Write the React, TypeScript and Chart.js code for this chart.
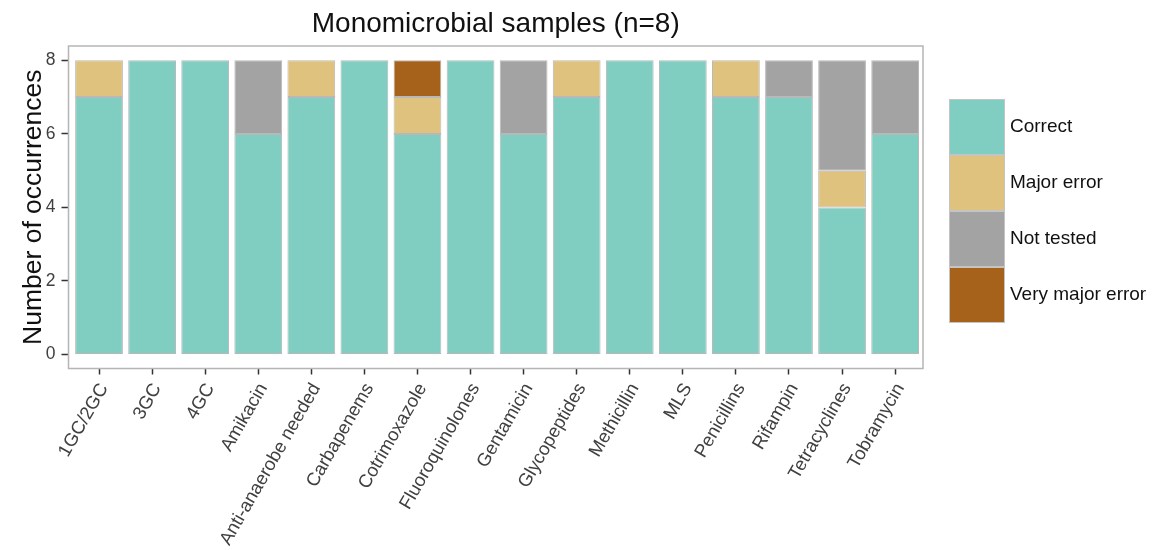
import React, { useEffect, useRef } from "react";
import { Chart, registerables } from "chart.js";

Chart.register(...registerables);

const categories = [
  "1GC/2GC", "3GC", "4GC", "Amikacin", "Anti-anaerobe needed", "Carbapenems",
  "Cotrimoxazole", "Fluoroquinolones", "Gentamicin", "Glycopeptides",
  "Methicillin", "MLS", "Penicillins", "Rifampin", "Tetracyclines", "Tobramycin",
];
const correct = [7, 8, 8, 6, 7, 8, 6, 8, 6, 7, 8, 8, 7, 7, 4, 6];
const majorError = [1, 0, 0, 0, 1, 0, 1, 0, 0, 1, 0, 0, 1, 0, 1, 0];
const notTested = [0, 0, 0, 2, 0, 0, 0, 0, 2, 0, 0, 0, 0, 1, 3, 2];
const veryMajorError = [0, 0, 0, 0, 0, 0, 1, 0, 0, 0, 0, 0, 0, 0, 0, 0];
const yTicks = [0, 2, 4, 6, 8];
const seriesNames = ["Correct", "Major error", "Not tested", "Very major error"];
const seriesValues = [correct, majorError, notTested, veryMajorError];
const seriesColors = ["#80CDC1", "#DFC27D", "#A3A3A3", "#A6611A"];
const titleText = "Monomicrobial samples (n=8)";
const yTitle = "Number of occurrences";

const FONT = "'Liberation Sans', Arial, Helvetica, sans-serif";

const decor = {
  id: "decor",
  afterDraw(chart: any) {
    const { ctx, chartArea: a } = chart;
    ctx.save();
    // panel border
    ctx.strokeStyle = "#b5b5b5";
    ctx.lineWidth = 1.5;
    ctx.strokeRect(a.left, a.top, a.right - a.left, a.bottom - a.top);
    // title
    ctx.fillStyle = "#111111";
    ctx.font = `28px ${FONT}`;
    ctx.textAlign = "center";
    ctx.textBaseline = "alphabetic";
    ctx.fillText(titleText, (a.left + a.right) / 2, 32);
    // legend
    const kx = 949, kw = 56, kh = 56, ky0 = 99;
    ctx.font = `19px ${FONT}`;
    ctx.textAlign = "left";
    ctx.textBaseline = "middle";
    seriesNames.forEach((name, i) => {
      const y = ky0 + i * kh;
      ctx.fillStyle = seriesColors[i];
      ctx.fillRect(kx, y, kw, kh);
      ctx.strokeStyle = "#c4c4c4";
      ctx.lineWidth = 1;
      ctx.strokeRect(kx + 0.5, y + 0.5, kw - 1, kh - 1);
      ctx.fillStyle = "#111111";
      ctx.fillText(name, kx + kw + 5, y + kh / 2);
    });
    ctx.restore();
  },
};

export default function App() {
  const ref = useRef<HTMLCanvasElement | null>(null);
  useEffect(() => {
    if (!ref.current) return;
    const chart = new Chart(ref.current, {
      type: "bar",
      data: {
        datasets: seriesNames.map((name, si) => ({
          label: name,
          data: seriesValues[si].map((v, i) => ({ x: i, y: v === 0 ? null : v })),
          backgroundColor: seriesColors[si],
          borderColor: "#b8b8b8",
          borderWidth: 1,
          borderSkipped: false,
          categoryPercentage: 0.9,
          barPercentage: 1.0,
        })) as any,
      },
      options: {
        animation: false,
        responsive: false,
        devicePixelRatio: 1,
        layout: { padding: { top: 46, right: 239, left: 0, bottom: 0 } },
        plugins: {
          legend: { display: false },
          title: { display: false },
          tooltip: { enabled: false },
        },
        scales: {
          x: {
            type: "linear",
            min: -0.575,
            max: 15.525,
            stacked: true,
            offset: false,
            afterBuildTicks: (s: any) => {
              s.ticks = categories.map((_, i) => ({ value: i }));
            },
            afterFit: (s: any) => {
              s.height = 550 - 368.5;
            },
            ticks: {
              autoSkip: false,
              minRotation: 60,
              maxRotation: 60,
              padding: 5,
              labelOffset: 5,
              color: "#404040",
              font: { family: FONT, size: 18.5 },
              callback: (v: any) => categories[v as number],
            },
            grid: {
              offset: false,
              drawOnChartArea: false,
              drawTicks: true,
              tickLength: 6,
              tickColor: "#333333",
              tickWidth: 1.5,
            },
            border: { display: false },
          },
          y: {
            type: "linear",
            min: -0.38,
            max: 8.39,
            stacked: true,
            afterBuildTicks: (s: any) => {
              s.ticks = yTicks.map((v) => ({ value: v }));
            },
            afterFit: (s: any) => {
              s.width = 68.5;
            },
            ticks: {
              padding: 6,
              color: "#404040",
              font: { family: FONT, size: 17.5 },
            },
            grid: {
              drawOnChartArea: false,
              drawTicks: true,
              tickLength: 7,
              tickColor: "#333333",
              tickWidth: 1.5,
            },
            border: { display: false },
            title: {
              display: true,
              text: yTitle,
              color: "#111111",
              font: { family: FONT, size: 26.5 },
              padding: { top: 18, bottom: 0 },
            },
          },
        },
      },
      plugins: [decor],
    });
    return () => chart.destroy();
  }, []);
  return (
    <div style={{ position: "absolute", left: 0, top: 0, width: 1162, height: 550, background: "#ffffff" }}>
      <canvas ref={ref} width={1162} height={550} />
    </div>
  );
}
